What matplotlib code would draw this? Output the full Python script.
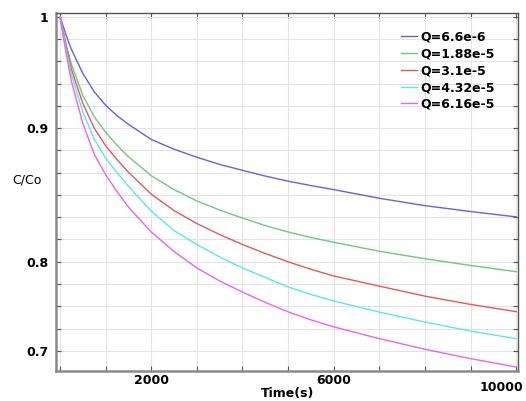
import numpy as np
import matplotlib
matplotlib.use("Agg")
import matplotlib.pyplot as plt
from matplotlib.transforms import ScaledTranslation

plt.rcParams['font.family'] = ['DejaVu Sans']

# ---- data ----
time_s = [0, 125, 250, 500, 750, 1000, 1250, 1500, 2000, 2500, 3000, 3500, 4000,
          4500, 5000, 5500, 6000, 7000, 8000, 9000, 10000]
q_labels = ["Q=6.6e-6", "Q=1.88e-5", "Q=3.1e-5", "Q=4.32e-5", "Q=6.16e-5"]
c_q1 = [1.0, 0.9845, 0.9706, 0.9491, 0.9326, 0.9205, 0.9111, 0.9034, 0.8915, 0.8842,
        0.8782, 0.8728, 0.8684, 0.8641, 0.8603, 0.8570, 0.8540, 0.8475, 0.8420, 0.8376, 0.8336]
c_q2 = [1.0, 0.9769, 0.9572, 0.9294, 0.9102, 0.8969, 0.8872, 0.8786, 0.8644, 0.8540,
        0.8455, 0.8387, 0.8327, 0.8271, 0.8223, 0.8182, 0.8146, 0.8079, 0.8023, 0.7959, 0.7889]
c_q3 = [1.0, 0.9747, 0.9527, 0.9223, 0.8999, 0.8868, 0.8764, 0.8670, 0.8506, 0.8383,
        0.8286, 0.8204, 0.8129, 0.8062, 0.8000, 0.7916, 0.7841, 0.7727, 0.7615, 0.7522, 0.7441]
c_q4 = [1.0, 0.9724, 0.9482, 0.9146, 0.8917, 0.8775, 0.8667, 0.8566, 0.8379, 0.8234,
        0.8129, 0.8036, 0.7931, 0.7825, 0.7718, 0.7634, 0.7561, 0.7436, 0.7324, 0.7223, 0.7138]
c_q5 = [1.0, 0.9693, 0.9420, 0.9043, 0.8805, 0.8652, 0.8525, 0.8409, 0.8223, 0.8077,
        0.7931, 0.7785, 0.7660, 0.7545, 0.7438, 0.7349, 0.7270, 0.7138, 0.7019, 0.6914, 0.6820]
series = [c_q1, c_q2, c_q3, c_q4, c_q5]
colors = ["#6262e6", "#74c482", "#e65858", "#5ce8e8", "#e866e8"]

y_major = [0.7, 0.8, 0.9, 1.0]
y_major_labels = ["0.7", "0.8", "0.9", "1"]
y_minor = [0.725, 0.75, 0.775, 0.8167, 0.8333, 0.85, 0.8667, 0.8833, 0.92, 0.94, 0.96, 0.98]
x_major = [2000, 6000, 10000]
x_minor = [0, 1000, 3000, 4000, 5000, 7000, 8000, 9000]

# non-uniform value axis of the original chart
_v = [0.5, 0.7, 0.8, 0.9, 1.0, 1.2]
_u = [-23.0, -15.0, -11.0, -5.0, 0.0, 10.0]
def fwd(v):
    return np.interp(v, _v, _u)
def inv(u):
    return np.interp(u, _u, _v)

fig = plt.figure(figsize=(5.26, 4.01), dpi=100)
ax = fig.add_axes([0.1074, 0.0748, 0.8774, 0.892])
ax.set_yscale('function', functions=(fwd, inv))

for vals, col, lab in zip(series, colors, q_labels):
    ax.plot(time_s, vals, color=col, lw=1.0, label=lab)

ax.set_xlim(-77, 10040)
ax.set_ylim(0.6775, 1.003)

ax.set_yticks(y_major)
ax.set_yticklabels(y_major_labels)
ax.set_yticks(y_minor, minor=True)
ax.set_xticks(x_major)
ax.set_xticklabels([str(v) for v in x_major])
ax.set_xticks(x_minor, minor=True)

ax.grid(True, which='both', color='#e4e4e4', lw=0.8)
ax.set_axisbelow(True)

ax.tick_params(which='both', direction='in', top=True, right=True,
               length=3.5, width=0.8, color='#555555')
ax.tick_params(axis='both', which='major', labelsize=9)
ax.tick_params(axis='y', which='major', pad=6)
ax.tick_params(axis='x', which='major', pad=2.5)
for lbl in ax.get_xticklabels() + ax.get_yticklabels():
    lbl.set_fontweight('bold')

for s in ['left', 'bottom']:
    ax.spines[s].set_color('#8a8a8a')
    ax.spines[s].set_linewidth(1.8)
for s in ['top', 'right']:
    ax.spines[s].set_color('#555555')
    ax.spines[s].set_linewidth(1.0)

last = ax.get_xticklabels()[-1]
last.set_transform(last.get_transform() + ScaledTranslation(-0.15, -0.07, fig.dpi_scale_trans))

ax.set_xlabel('Time(s)', fontsize=9, fontweight='bold')
ax.xaxis.set_label_coords(0.5, -0.046)
ax.set_ylabel('C/Co', fontsize=9, rotation=0, ha='center', va='center')
ax.yaxis.set_label_coords(-0.064, 0.534)

leg = ax.legend(loc='upper left', bbox_to_anchor=(0.746, 0.951), frameon=False,
                prop={'weight': 'bold', 'size': 9}, handlelength=1.3,
                handletextpad=0.27, labelspacing=0.3, borderpad=0, borderaxespad=0)

fig.savefig('out.png', dpi=100)
